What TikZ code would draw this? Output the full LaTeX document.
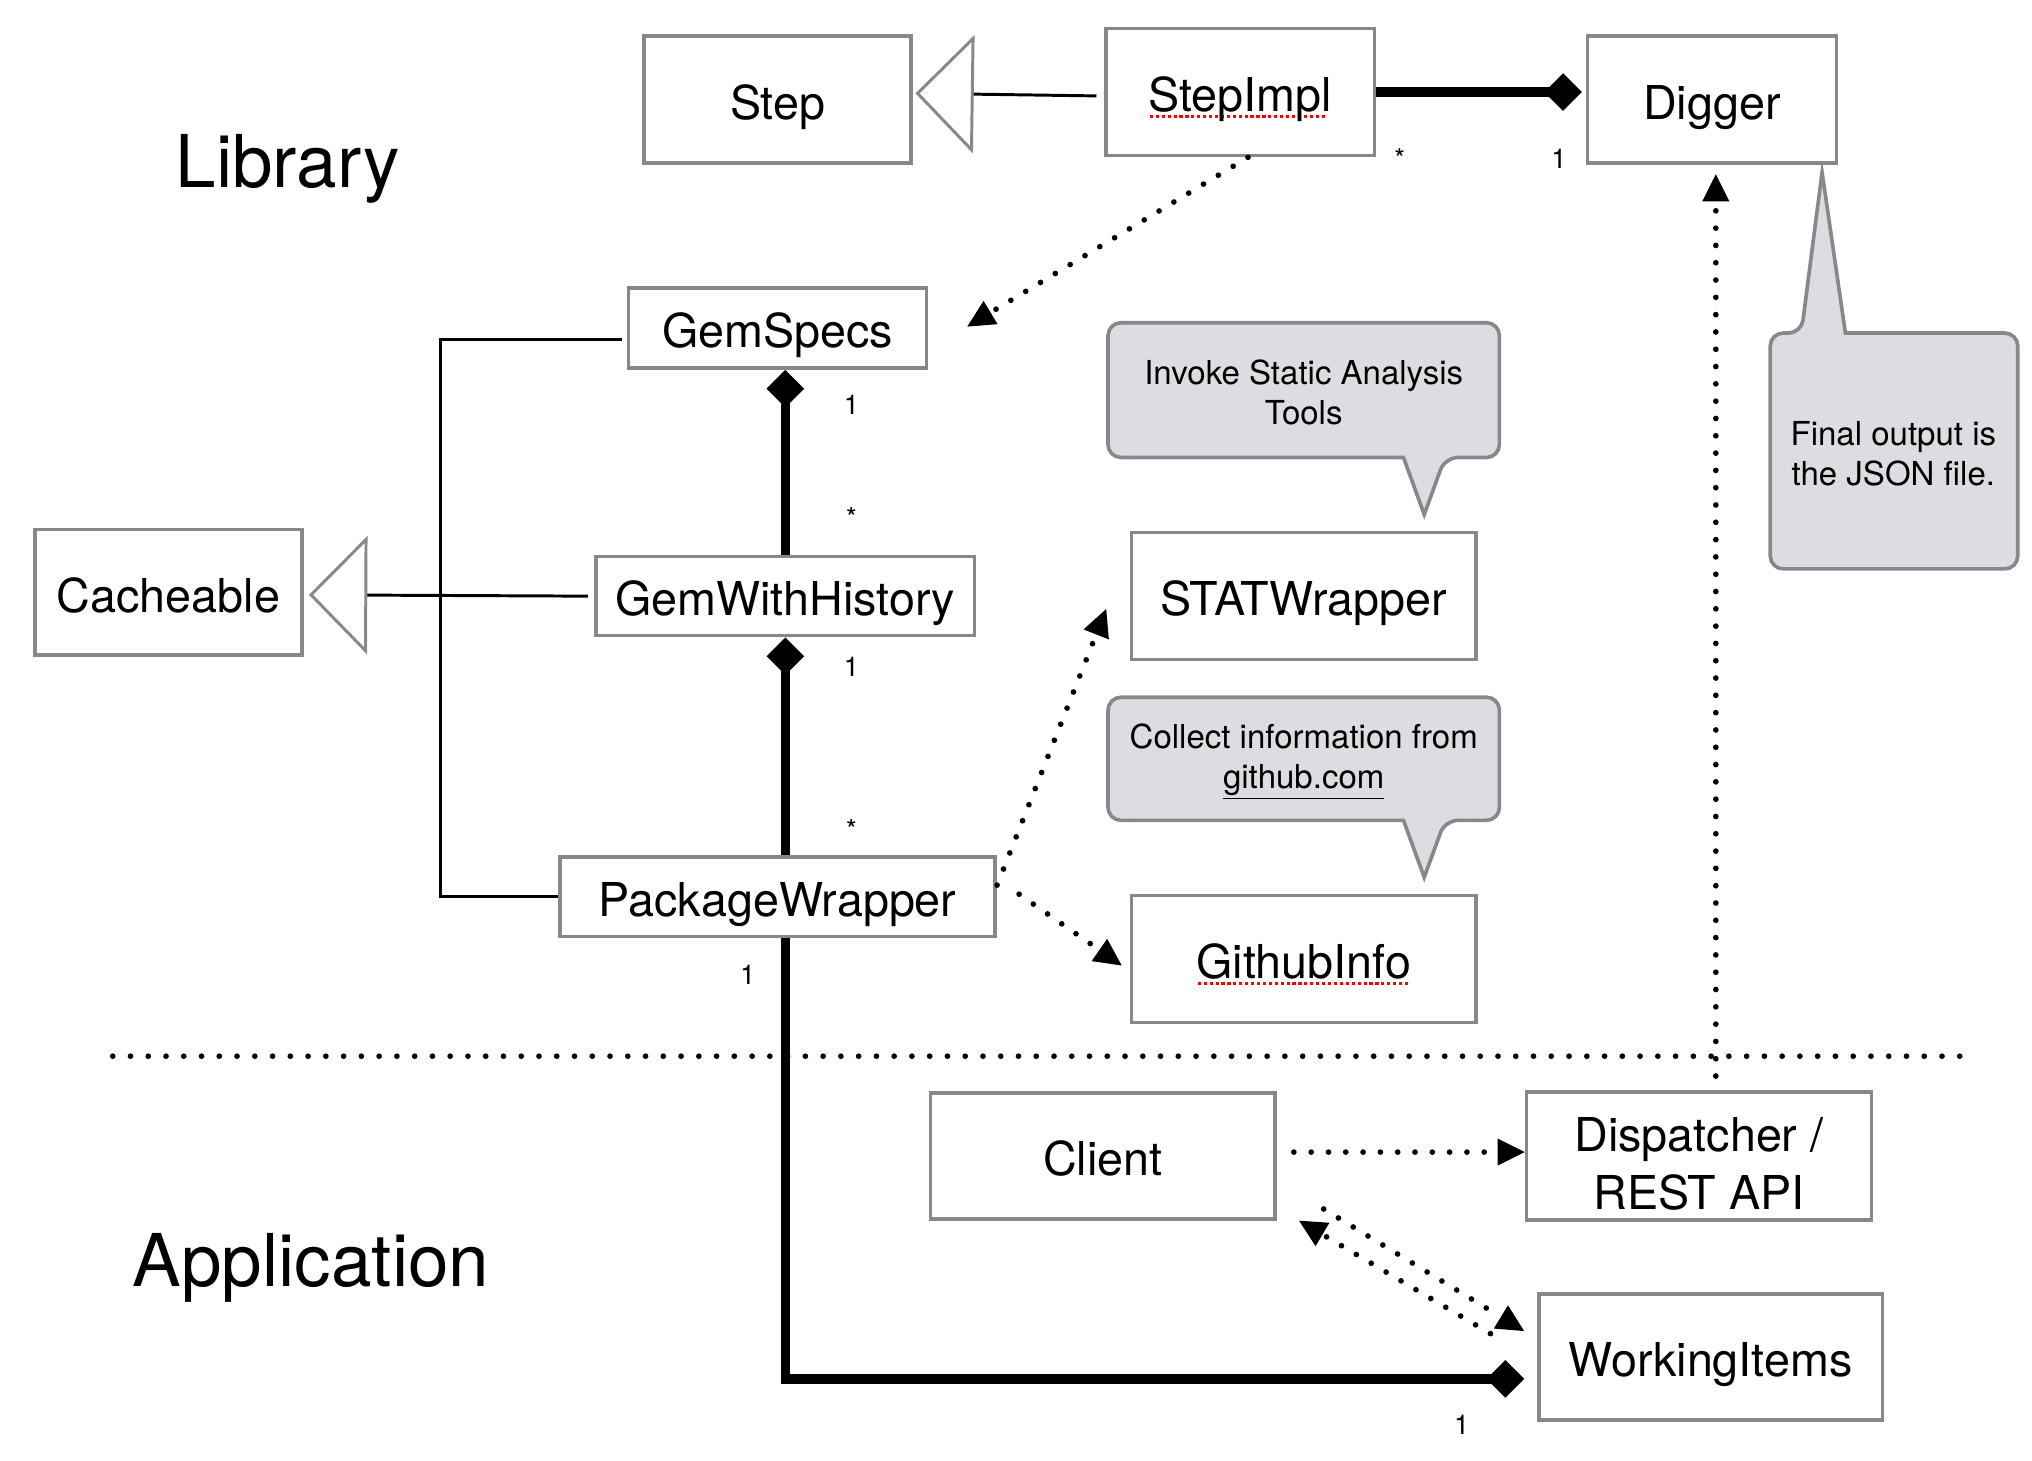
\documentclass[tikz,border=0pt]{standalone}
\usepackage{fontspec}
\setmainfont{TeX Gyre Heros}
\usetikzlibrary{arrows.meta,calc}
\definecolor{boxgray}{RGB}{134,136,142}
\definecolor{notefill}{RGB}{220,221,224}
\newcommand{\spellmark}[1]{\setbox0\hbox{#1}\rlap{\color{red}\leaders\hbox to 2.6pt{\hss\raisebox{-2.8pt}{\rule{1.4pt}{1.3pt}}\hss}\hskip\wd0}\box0}
\tikzstyle{classbox}=[draw=boxgray, line width=1.6pt, fill=white, align=center, inner sep=0pt, font=\fontsize{20.5}{25.5}\selectfont, execute at begin node={\rule[-4.6pt]{0pt}{26.6pt}}]
\tikzstyle{compose}=[draw, line width=4.2pt, -{Diamond[length=0.58cm,width=0.58cm,line width=0pt]}]
\tikzstyle{inherit}=[draw, line width=1.3pt, -{Triangle[open,length=0.9cm,width=1.82cm,color=boxgray]}]
\tikzstyle{bus}=[draw, line width=1.3pt]
\tikzstyle{depend}=[draw, line width=2.5pt, line cap=round, dash pattern=on 0pt off 7.6pt, -{Triangle[length=0.42cm,width=0.42cm,line width=0pt]}]
\tikzstyle{separator}=[draw, line width=2.5pt, line cap=round, dash pattern=on 0pt off 7.8pt]
\tikzstyle{note}=[draw=boxgray, fill=notefill, line width=1.6pt]
\tikzstyle{notetext}=[align=center, font=\fontsize{14.5}{17.6}\selectfont]
\tikzstyle{mult}=[font=\fontsize{12}{14}\selectfont, inner sep=0pt]
\tikzstyle{layer}=[font=\fontsize{32}{38}\selectfont]
\begin{document}
\begin{tikzpicture}[x=0.02cm, y=-0.02cm]

    \useasboundingbox (0,0) rectangle (1568,1127);

    % speech balloons
    \draw[note] (1006,249) [rounded corners=0.2cm] -- (1157,249) -- (1157,353) -- (1115,353) [sharp corners] -- (1099,397) -- (1083,353) [rounded corners=0.2cm] -- (855,353) -- (855,249) -- cycle;
    \draw[note] (1006,538) [rounded corners=0.2cm] -- (1157,538) -- (1157,633) -- (1115,633) [sharp corners] -- (1099,677) -- (1083,633) [rounded corners=0.2cm] -- (855,633) -- (855,538) -- cycle;
    \draw[note] (1461,257) [rounded corners=0.2cm] -- (1557,257) -- (1557,439) -- (1366,439) -- (1366,257) -- (1390,257) [sharp corners] -- (1406,133) -- (1424,257) -- cycle;

    \node[notetext] (invokenote) at (1006,303) {Invoke Static Analysis\\Tools};
    \node[notetext] (collectnote) at (1006,588) {Collect information from\\\underline{github.com}};
    \node[notetext] (finalnote) at (1461,350) {Final output is\\the JSON file.};

    \node[layer] (library) at (222,130) {Library};
    \node[layer] (application) at (240,978) {Application};

    \foreach \x/\y/\w/\h/\name/\txt in {600/77/206/98/step/Step, 957/71/207/98/stepimpl/{\spellmark{StepImpl}}, 1321/77/192/98/digger/Digger, 600/253/230/62/gemspecs/GemSpecs, 130/457/206/97/cacheable/Cacheable, 606/460/292/61/gemwithhistory/GemWithHistory, 600/692/336/61/packagewrapper/PackageWrapper, 1006/460/266/98/statwrapper/STATWrapper, 1006/740/266/98/githubinfo/{\spellmark{GithubInfo}}, 851/892/266/97/client/Client, 1311/892/266/97/dispatcher/{\rule{0pt}{26pt}Dispatcher /\\REST API}, 1320/1047/265/97/workingitems/WorkingItems}
        \node[classbox, minimum width=\w*0.02cm, minimum height=\h*0.02cm] (\name) at (\x,\y) {\txt};

    \draw[separator] (87,815) -- (1520,815);

    % generalization
    \draw[inherit] ($(stepimpl.west)+(-6,3)$) -- ($(step.east)+(2,-5)$);
    \draw[inherit] ($(gemwithhistory.west)+(-5,0)$) -- ($(cacheable.east)+(4,2)$);
    \coordinate (busjoint) at (340,460);
    \draw[bus] ($(gemspecs.west)+(-4,9)$) -| (busjoint) |- (packagewrapper.west);

    % composition
    \draw[compose, shorten >=0.06cm] (stepimpl.east) -- (stepimpl.east -| digger.west);
    \draw[compose] (gemwithhistory.north) -- (gemwithhistory.north |- gemspecs.south);
    \draw[compose] (packagewrapper.north -| gemwithhistory.south) -- (gemwithhistory.south);
    \draw[compose] (packagewrapper.south -| gemwithhistory.south) |- ($(workingitems.west)+(-10,17)$);

    \foreach \x/\y/\t/\name in {1080/130/*/mstara, 1203/130/1/monea, 657/320/1/moneb, 657/407/*/mstarb, 657/522/1/monec, 657/648/*/mstarc, 577/760/1/moned, 1128/1107/1/monee}
        \node[mult, anchor=base] (\name) at (\x,\y) {\t};

    % dependencies
    \draw[depend] ($(stepimpl.south)+(6,0)$) -- ($(gemspecs.east)+(30,-1)$);
    \draw[depend] ($(packagewrapper.east)+(0,-9)$) -- ($(statwrapper.west)+(-18,10)$);
    \draw[depend] ($(packagewrapper.east)+(17,-2)$) -- ($(githubinfo.west)+(-6,5)$);
    \draw[depend] ($(client.east)+(13,-3)$) -- ($(dispatcher.west)+(0,-3)$);
    \draw[depend] ($(workingitems.north west)+(-36,32)$) -- ($(client.south east)+(17,0)$);
    \draw[depend] ($(client.south east)+(36,-9)$) -- ($(workingitems.north west)+(-10,30)$);
    \draw[depend] ($(dispatcher.north)+(13,-11)$) -- ($(digger.south)+(3,7)$);

\end{tikzpicture}
\end{document}
